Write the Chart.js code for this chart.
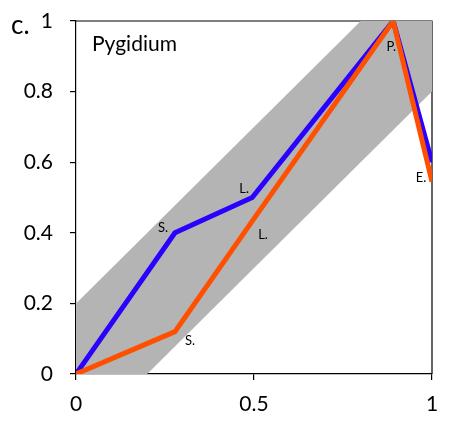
<!DOCTYPE html>
<html>
<head>
<meta charset="utf-8">
<script src="https://cdn.jsdelivr.net/npm/chart.js@4.4.0/dist/chart.umd.min.js"></script>
<style>
html,body{margin:0;padding:0;background:#fff;}
#wrap{width:461px;height:423px;}
</style>
</head>
<body>
<div id="wrap"><canvas id="c" width="461" height="423"></canvas></div>
<script>
// ---- data ----
const blueX = [0, 0.278, 0.495, 0.891, 1];
const blueY = [0, 0.40, 0.50, 1.0, 0.60];
const blueLabels = ['', 'S.', 'L.', '', ''];
const orangeX = [0, 0.278, 0.50, 0.891, 1];
const orangeY = [0, 0.12, 0.44, 1.0, 0.545];
const orangeLabels = ['', 'S.', 'L.', 'P.', 'E.'];
const bandUpperX = [0, 0.8, 1];
const bandUpperY = [0.2, 1, 1];
const bandLowerX = [0, 0.2, 1];
const bandLowerY = [0, 0, 0.8];
const xTicks = [0, 0.5, 1];
const yTicks = [0, 0.2, 0.4, 0.6, 0.8, 1];
const panelLetter = 'c.';
const panelTitle = 'Pygidium';

const zip = (xs, ys) => xs.map((x, i) => ({x: x, y: ys[i]}));
const FONT = 'Lato, "Liberation Sans", sans-serif';

const BLUE = '#2a00ff';
const ORANGE = '#ff5000';
const GREY = '#b4b4b4';

const labelOffsets = {
  blue: [null, [-12, -5], [-8, -9], null, null],
  orange: [null, [15, 9], [9, 16], [-2, 26], [-11, -4]]
};

const decor = {
  id: 'decor',
  beforeDatasetsDraw(chart) {
    const {ctx, chartArea: a} = chart;
    ctx.save();
    ctx.strokeStyle = '#000';
    ctx.lineWidth = 1.2;
    ctx.beginPath();
    ctx.moveTo(a.left, a.top);
    ctx.lineTo(a.right, a.top);
    ctx.lineTo(a.right, a.bottom);
    ctx.stroke();
    ctx.restore();
  },
  afterDatasetsDraw(chart) {
    const {ctx, chartArea: a} = chart;
    const xs = chart.scales.x, ys = chart.scales.y;
    ctx.save();
    ctx.fillStyle = '#000';
    ctx.textAlign = 'center';
    ctx.textBaseline = 'middle';
    ctx.font = '13px ' + FONT;
    const draw = (xsA, ysA, labs, offs) => {
      labs.forEach((t, i) => {
        if (!t) return;
        const px = xs.getPixelForValue(xsA[i]) + offs[i][0];
        const py = ys.getPixelForValue(ysA[i]) + offs[i][1];
        ctx.fillText(t, px, py);
      });
    };
    draw(blueX, blueY, blueLabels, labelOffsets.blue);
    draw(orangeX, orangeY, orangeLabels, labelOffsets.orange);
    ctx.textAlign = 'left';
    ctx.font = '21px ' + FONT;
    ctx.fillText(panelTitle, a.left + 16, a.top + 23);
    ctx.textBaseline = 'alphabetic';
    ctx.font = '26px ' + FONT;
    ctx.fillText(panelLetter, 11, 34);
    ctx.restore();
  }
};

new Chart(document.getElementById('c'), {
  type: 'scatter',
  data: {
    datasets: [
      {label: 'orange', data: zip(orangeX, orangeY), showLine: true, borderColor: ORANGE, borderWidth: 5, pointRadius: 0, fill: false, order: 0, borderJoinStyle: 'miter'},
      {label: 'blue', data: zip(blueX, blueY), showLine: true, borderColor: BLUE, borderWidth: 5, pointRadius: 0, fill: false, order: 1, borderJoinStyle: 'miter'},
      {label: 'bandUpper', data: zip(bandUpperX, bandUpperY), showLine: true, borderWidth: 0, borderColor: 'rgba(0,0,0,0)', pointRadius: 0, backgroundColor: GREY, fill: '+1', order: 2},
      {label: 'bandLower', data: zip(bandLowerX, bandLowerY), showLine: true, borderWidth: 0, borderColor: 'rgba(0,0,0,0)', pointRadius: 0, fill: false, order: 3}
    ]
  },
  options: {
    responsive: false,
    animation: false,
    layout: {padding: {left: 0, top: 21, right: 29, bottom: 0}},
    plugins: {legend: {display: false}, tooltip: {enabled: false}},
    scales: {
      x: {
        type: 'linear', min: 0, max: 1,
        afterBuildTicks(s) { s.ticks = xTicks.map(v => ({value: v})); },
        afterFit(s) { s.height = 49; s.paddingLeft = 0; s.paddingRight = 0; },
        grid: {display: true, drawOnChartArea: false, drawTicks: true, tickLength: 6, color: '#000', lineWidth: 1.2},
        border: {display: true, color: '#000', width: 1.2},
        ticks: {color: '#000', font: {family: FONT, size: 21}, padding: 12, maxRotation: 0, callback: v => String(v)}
      },
      y: {
        type: 'linear', min: 0, max: 1,
        afterBuildTicks(s) { s.ticks = yTicks.map(v => ({value: v})); },
        afterFit(s) { s.width = 76; s.paddingTop = 0; s.paddingBottom = 0; },
        grid: {display: true, drawOnChartArea: false, drawTicks: true, tickLength: 6, color: '#000', lineWidth: 1.2},
        border: {display: true, color: '#000', width: 1.2},
        ticks: {color: '#000', font: {family: FONT, size: 21}, padding: 17, callback: v => String(v)}
      }
    }
  },
  plugins: [decor]
});
</script>
</body>
</html>
